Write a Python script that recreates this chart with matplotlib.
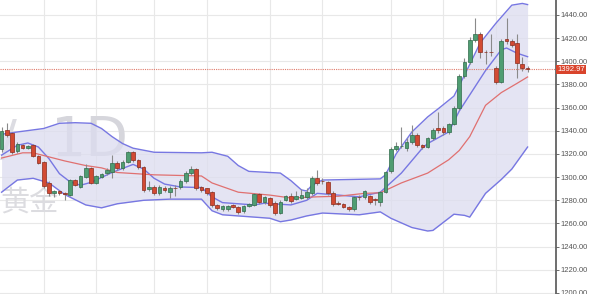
import numpy as np
import matplotlib.pyplot as plt

# daily candles, oldest first
opens = [1324, 1340.7, 1338, 1322.5, 1327.7, 1325.5, 1327.7, 1318.2, 1313, 1294.9,
         1286.3, 1288, 1286, 1284.6, 1297.5, 1291.5, 1300.1, 1307.9, 1294.9, 1300.1,
         1303.5, 1304.4, 1312.2, 1307.9, 1313, 1321.7, 1314.8, 1308.7, 1289.7, 1291.5,
         1286.3, 1290.6, 1287.1, 1290.8, 1291.5, 1296.6, 1303.5, 1307, 1291.5, 1290.6,
         1287.1, 1275.9, 1272.4, 1272.4, 1275.9, 1274.2, 1270.7, 1275, 1275.9, 1285.4,
         1278.5, 1282, 1277.6, 1269, 1280.2, 1283.7, 1281.1, 1282, 1283, 1286.3,
         1299.2, 1297, 1295.8, 1286.3, 1278, 1276.8, 1274.2, 1272.4, 1282.8, 1282.8,
         1283.7, 1281, 1278.5, 1287.1, 1305.3, 1324.3, 1326.5, 1325, 1330, 1336.4,
         1327.7, 1326, 1333.8, 1342, 1342.4, 1339, 1345.9, 1359.7, 1387.3, 1399.4,
         1418.4, 1423.6, 1408.3, 1408.2, 1394.2, 1382.1, 1419.3, 1417.5, 1415.8, 1397.7,
         1394.5]
closes = [1340, 1336.4, 1321.7, 1328.6, 1325.1, 1327, 1318.2, 1312.2, 1292.3, 1286.3,
          1288, 1286.3, 1285.6, 1297.5, 1293.2, 1300.9, 1307.9, 1294.9, 1300.9, 1302.7,
          1306.1, 1312.2, 1307.9, 1313, 1321.7, 1314.8, 1308.7, 1288.9, 1291.5, 1286.3,
          1291.5, 1288.9, 1290.6, 1290.4, 1296.6, 1303.5, 1307, 1290.6, 1288.9, 1286.3,
          1275.9, 1273.3, 1275, 1275, 1274.2, 1269.9, 1275, 1276.8, 1285.4, 1278.5,
          1282.8, 1275.9, 1269, 1278.5, 1283.7, 1279.4, 1283.7, 1284.6, 1287, 1299.2,
          1294.9, 1296.3, 1286.3, 1276.8, 1277, 1274.2, 1272.4, 1282.8, 1282.5, 1288,
          1278.5, 1280, 1287.1, 1304.4, 1324.3, 1326.9, 1327, 1330, 1336.4, 1327.7,
          1326, 1333.8, 1340.7, 1340.7, 1339, 1345.9, 1359.7, 1387.3, 1399.4, 1418.4,
          1423.6, 1408, 1407.8, 1407.8, 1382.1, 1417.5, 1417.5, 1414.1, 1398.5, 1394.2,
          1392.97]
highs = [1343, 1347, 1339, 1330, 1328.5, 1328, 1328.5, 1319, 1314, 1297,
         1289, 1289, 1287, 1298, 1298, 1302, 1311, 1309, 1302, 1304,
         1308, 1319, 1314, 1315, 1323, 1323, 1316, 1310, 1297, 1293,
         1293, 1292, 1292, 1293, 1298, 1305, 1310, 1308, 1292, 1291,
         1288, 1277, 1276, 1276, 1277, 1275, 1276, 1278, 1286, 1286,
         1284, 1283, 1279, 1280, 1285, 1286, 1288, 1290, 1291, 1301,
         1306, 1299, 1297, 1288, 1279, 1278, 1275, 1284, 1285, 1289,
         1285, 1282, 1288, 1305, 1326, 1330, 1343, 1334, 1345, 1338,
         1329, 1335, 1342, 1356, 1344, 1347, 1361, 1389, 1403, 1421,
         1437, 1425, 1410, 1424, 1396, 1419, 1437, 1419, 1424, 1404,
         1396]
lows = [1322, 1335, 1320, 1321, 1324, 1324, 1317, 1311, 1291, 1284,
        1283, 1285, 1280, 1284, 1292, 1291, 1299, 1294, 1294, 1299,
        1302, 1299, 1306, 1306, 1312, 1313, 1307, 1287, 1288, 1285,
        1285, 1287, 1282, 1284, 1290, 1295, 1302, 1289, 1287, 1285,
        1274, 1272, 1271, 1271, 1273, 1268, 1269, 1274, 1275, 1277,
        1277, 1274, 1267, 1268, 1279, 1278, 1280, 1281, 1281, 1285,
        1293, 1294, 1285, 1275, 1276, 1273, 1271, 1271, 1280, 1281,
        1277, 1276, 1275, 1286, 1304, 1323, 1325, 1323, 1329, 1326,
        1324, 1325, 1332, 1338, 1336, 1337, 1345, 1358, 1386, 1398,
        1417, 1403, 1398, 1405, 1380, 1381, 1415, 1412, 1386, 1392,
        1391]

# bollinger bands and moving averages at candle index
upper_idx = [0, 3, 8, 11, 14, 17, 19, 21, 23, 25, 29, 38, 40, 43, 45, 47, 53, 55, 57, 58,
             59, 61, 72, 73, 75, 78, 81, 83, 86, 88, 91, 94, 97, 99, 100]
upper_val = [1337, 1339, 1342, 1346.5, 1347, 1346.5, 1342, 1335, 1329, 1325, 1321.5, 1321,
             1321.5, 1318, 1310, 1305, 1303.5, 1297, 1289, 1288, 1293, 1297.5, 1298.5, 1302,
             1320, 1339, 1352, 1359, 1370, 1388, 1416, 1433, 1448.5, 1450, 1449]
lower_idx = [0, 3, 6, 9, 12, 16, 19, 22, 27, 32, 38, 40, 42, 51, 53, 55, 58, 61, 68, 72,
             74, 78, 81, 82, 86, 88, 89, 92, 95, 97, 100]
lower_val = [1287, 1297.5, 1299, 1295, 1285, 1276, 1273.5, 1277, 1280, 1281, 1281, 1271,
             1267.5, 1264.5, 1261.5, 1263, 1266.5, 1269, 1267.5, 1270, 1264.5, 1256.5,
             1253.5, 1254, 1268, 1267, 1265.5, 1286, 1298, 1307, 1326]
fast_idx = [0, 3, 5, 7, 9, 11, 13, 15, 17, 21, 25, 27, 29, 31, 34, 38, 40, 42, 48, 50,
            55, 58, 60, 64, 68, 72, 76, 80, 81, 85, 87, 90, 92, 95, 96, 98, 100]
fast_val = [1319, 1327.5, 1329.5, 1326, 1316, 1303, 1296, 1293, 1295.5, 1304, 1311, 1307,
            1299, 1294, 1291.5, 1291, 1283, 1278, 1276, 1277.5, 1276, 1280, 1286, 1284.5,
            1283, 1287, 1303.5, 1325, 1329, 1339, 1357, 1378, 1392, 1410, 1411.5, 1407, 1404]
mid_idx = [0, 4, 6, 9, 12, 16, 19, 22, 29, 38, 40, 45, 51, 55, 60, 64, 69, 72, 76, 81,
           85, 87, 89, 92, 95, 98, 100]
mid_val = [1316.5, 1321, 1321, 1317.5, 1314, 1310, 1308, 1304, 1302, 1301, 1295, 1287,
           1284.5, 1282, 1283, 1283.5, 1286, 1286.5, 1295, 1303.5, 1315, 1323, 1335, 1362,
           1373, 1381, 1386.5]

price_ticks = list(range(1200, 1441, 20))
grid_idx = [8, 18, 29, 39, 51, 61, 74, 84, 94]
last_price = 1392.97

fig = plt.figure(figsize=(5.9, 2.94), dpi=100)
ax = fig.add_axes([0, 0, 556 / 590, 1])
ax.set_xlim(-0.3, 105.4)
ax.set_ylim(1199.1, 1452.95)

for p in price_ticks:
    ax.axhline(p, color="#e8e8e8", lw=0.8, zorder=0)
for g in grid_idx:
    ax.axvline(g, color="#e8e8e8", lw=0.8, zorder=0)

# watermark
ax.text(0.0, 0.52, "/", transform=ax.transAxes, fontsize=36, color="#dcdce2",
        va="center", ha="left", zorder=0.5)
ax.text(0.092, 0.52, "1D", transform=ax.transAxes, fontsize=40, color="#d6d6dc",
        va="center", ha="left", zorder=0.5)
ax.text(0.0, 0.31, "黄金", transform=ax.transAxes, fontsize=21, color="#dcdce0",
        family=["Noto Sans CJK SC", "DejaVu Sans"], va="center", ha="left", zorder=0.5)

# band fill
band_x = np.arange(0, 101)
up_line = np.interp(band_x, upper_idx, upper_val)
lo_line = np.interp(band_x, lower_idx, lower_val)
ax.fill_between(band_x, lo_line, up_line, color="#dcdcef", alpha=0.75, lw=0, zorder=1)
ax.plot(upper_idx, upper_val, color="#7777e2", lw=1.0, zorder=2)
ax.plot(lower_idx, lower_val, color="#7777e2", lw=1.0, zorder=2)
ax.plot(fast_idx, fast_val, color="#7777e2", lw=1.0, zorder=2)
ax.plot(mid_idx, mid_val, color="#e07070", lw=0.9, zorder=2)

idx = np.arange(len(opens))
o = np.array(opens)
c = np.array(closes)
up = c >= o
ax.vlines(idx, lows, highs, color="#8a8a8a", lw=0.8, zorder=3)
body = np.where(np.abs(c - o) < 0.6, 0.6, c - o)
ax.bar(idx[up], body[up], bottom=o[up], width=0.7, color="#4f9d72",
       edgecolor="#2f6a4a", lw=0.5, zorder=4)
ax.bar(idx[~up], (o - c)[~up].clip(0.6), bottom=c[~up], width=0.7, color="#d24a33",
       edgecolor="#8a2b1c", lw=0.5, zorder=4)

ax.axhline(last_price, color="#e07a6a", lw=0.8, ls=(0, (1, 1)), zorder=2)

# right price scale
for s in ["top", "left", "bottom"]:
    ax.spines[s].set_visible(False)
ax.spines["right"].set_color("#555555")
ax.spines["right"].set_linewidth(1.2)
ax.yaxis.tick_right()
ax.set_yticks(price_ticks)
ax.set_yticklabels(["%.2f" % p for p in price_ticks], fontsize=5.5, color="#555555",
                   family="Liberation Sans")
ax.tick_params(axis="y", length=2, width=0.6, color="#555555", pad=1.2)
ax.set_xticks([])
ax.text(1.002, last_price, "%.2f" % last_price, transform=ax.get_yaxis_transform(),
        fontsize=5.5, color="white", va="center", ha="left", zorder=6,
        family="Liberation Sans",
        bbox=dict(boxstyle="square,pad=0.18", fc="#d9442c", ec="none"))

fig.savefig("out.png", dpi=100)
